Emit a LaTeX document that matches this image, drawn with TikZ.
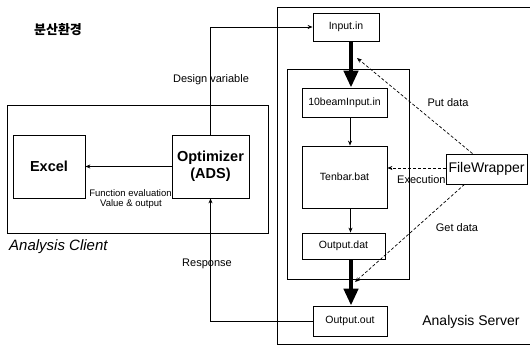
\documentclass[tikz,border=0pt]{standalone}
\usepackage{fontspec}
\setmainfont{Liberation Sans}
\newfontfamily\cjk{Noto Sans CJK KR}
\usetikzlibrary{arrows.meta,calc}
\begin{document}
\begin{tikzpicture}[x=1pt,y=-1pt,
  box/.style={draw,line width=0.8pt,inner sep=0pt,align=center,font=\fontsize{10.5}{12}\selectfont},
  frame/.style={draw,line width=0.8pt},
  lbl/.style={inner sep=0pt,font=\fontsize{11}{13}\selectfont},
  thin/.style={line width=0.8pt,-{Stealth[length=5pt,width=4pt]}},
  thick/.style={line width=4.5pt,-{Triangle[length=17pt,width=14pt]}},
  dsh/.style={line width=0.7pt,dash pattern=on 3pt off 2pt,-{Stealth[length=5pt,width=4pt]}}]
\useasboundingbox (0,0) rectangle (530,347);
% frames
\node[frame,minimum width=261pt,minimum height=128pt,inner sep=0pt] (client) at (137.5,169) {};
\draw[frame] (531,7) -- (277,7) -- (277,344) -- (531,344);
\coordinate (server) at (277,7);
\node[frame,minimum width=122pt,minimum height=210pt,inner sep=0pt] (inner) at (348,174) {};
% nodes
\node[box,minimum width=72pt,minimum height=63pt,font=\fontsize{14.5}{17}\selectfont\bfseries] (excel) at (49,166.5) {Excel};
\node[box,minimum width=77pt,minimum height=63pt,font=\fontsize{14.5}{17}\selectfont\bfseries] (opt) at (210.5,166.5) {Optimizer\\(ADS)};
\node[box,minimum width=66pt,minimum height=28pt] (input) at (346,27) {Input.in};
\node[box,minimum width=85pt,minimum height=29pt] (beam) at (344.5,102.5) {10beamInput.in};
\node[box,minimum width=85pt,minimum height=62pt] (tenbar) at (344.5,177) {Tenbar.bat};
\node[box,minimum width=83pt,minimum height=26pt] (outdat) at (343.5,246) {Output.dat};
\node[box,minimum width=74pt,minimum height=30pt] (outout) at (350,321) {Output.out};
% labels
\node[lbl] (dv) at (211,80) {Design variable};
\node[lbl] (resp) at (207,264) {Response};
\node[lbl,font=\fontsize{9.5}{11}\selectfont] (fe) at (130.5,193) {Function evaluation};
\node[lbl,font=\fontsize{9.5}{11}\selectfont] (vo) at (131,204) {Value \& output};
\node[lbl] (put) at (448,103) {Put data};
\node[lbl,anchor=west] (exe) at (397,180) {Execution};
\node[lbl] (get) at (457,228) {Get data};
\node[lbl,anchor=west,font=\fontsize{15}{17}\selectfont\itshape] (cl) at (9,247) {Analysis Client};
\node[lbl,font=\fontsize{14}{16}\selectfont] (sv) at (471,322) {Analysis Server};
\node[lbl,font=\fontsize{13}{15}\cjk\bfseries] (kr) at (58,30) {분산환경};
% FileWrapper on top of Execution label
\node[box,fill=white,minimum width=81pt,minimum height=30pt,font=\fontsize{14}{16}\selectfont] (fw) at (486.5,169) {FileWrapper};
% connectors
\draw[thin] (opt.north) |- (input.west);
\draw[thin] (outout.west) -| (opt.south);
\draw[thin] (opt.west) -- (excel.east);
\draw[thick] ([xshift=5pt]input.south) -- ([xshift=6.5pt]beam.north);
\draw[thin] ([xshift=5.5pt]beam.south) -- ([xshift=5.5pt]tenbar.north);
\draw[thin] ([xshift=6pt]tenbar.south) -- ([xshift=7pt]outdat.north);
\draw[thick] ([xshift=7.5pt]outdat.south) -- ([xshift=1pt]outout.north);
\coordinate (putend) at (357,58);
\coordinate (getend) at (355,282);
\draw[dsh] ([xshift=-14pt]fw.north) -- (putend);
\draw[dsh] ([yshift=1pt]fw.west) -- ([yshift=1pt]fw.west -| tenbar.east);
\draw[dsh] ([xshift=-22pt]fw.south) -- (getend);
\end{tikzpicture}
\end{document}
